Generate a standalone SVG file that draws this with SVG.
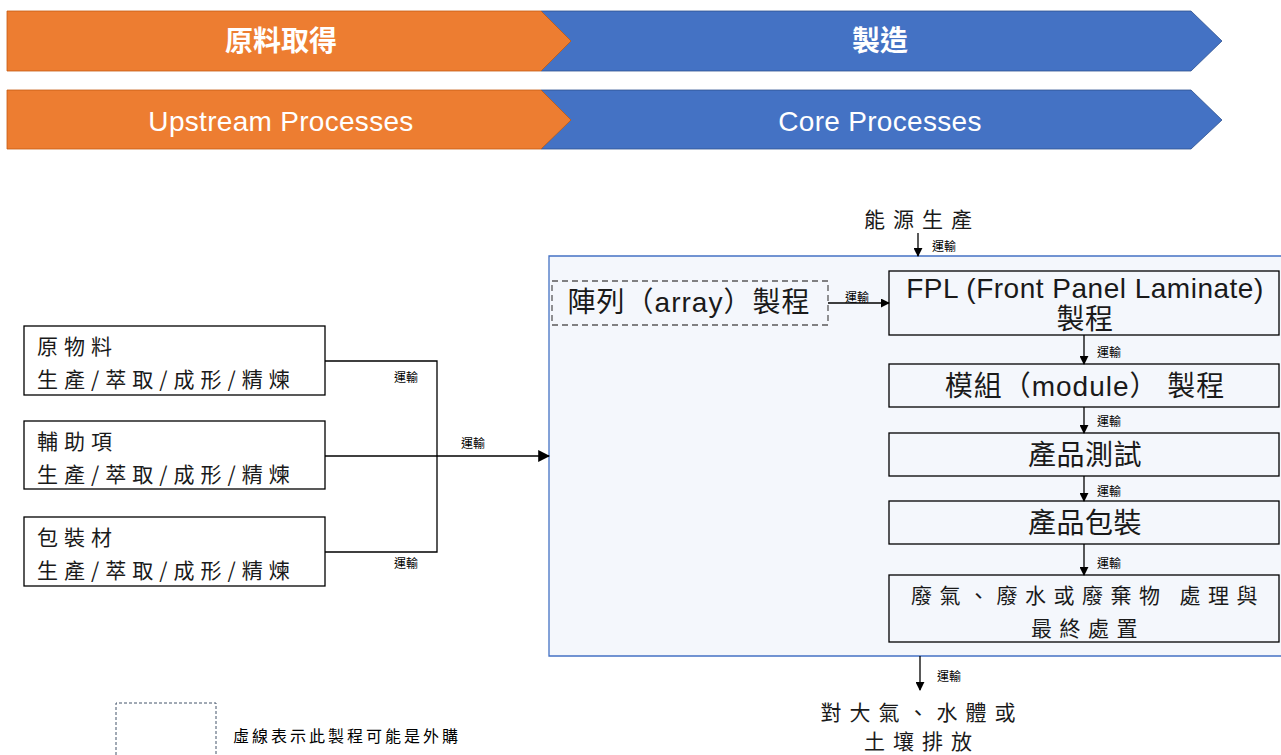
<svg xmlns="http://www.w3.org/2000/svg" width="1281" height="755" viewBox="0 0 1281 755">
<style>
.ban{font-family:"Liberation Sans","Noto Sans CJK TC",sans-serif;font-size:28px;fill:#ffffff;text-anchor:middle;dominant-baseline:central}
.banb{font-weight:bold}
.box{fill:#ffffff;stroke:#000000;stroke-width:1.3}
.pbox{fill:#f4f7fc;stroke:#000000;stroke-width:1.3}
.ser{font-family:"Noto Sans CJK TC",sans-serif;font-size:21px;fill:#1a1a1a;letter-spacing:6px;dominant-baseline:central}
.sans{font-family:"Liberation Sans","Noto Sans CJK TC",sans-serif;font-size:28px;fill:#1a1a1a;text-anchor:middle;dominant-baseline:central;letter-spacing:0.5px}
.lbl{font-family:"Noto Sans CJK TC",sans-serif;font-size:12px;fill:#000000;dominant-baseline:central}
.ln{fill:none;stroke:#000000;stroke-width:1.3}
</style>
<defs>
<marker id="ah" viewBox="0 0 10 10" refX="9" refY="5" markerWidth="9" markerHeight="9" markerUnits="userSpaceOnUse" orient="auto">
<path d="M0,0 L10,5 L0,10 z" fill="#000000"/>
</marker>
<marker id="ahb" viewBox="0 0 10 10" refX="9" refY="5" markerWidth="12" markerHeight="12" markerUnits="userSpaceOnUse" orient="auto">
<path d="M0,0 L10,5 L0,10 z" fill="#000000"/>
</marker>
</defs>
<rect width="1281" height="755" fill="#ffffff"/>

<g id="banners">
<polygon points="541,11 1191,11 1222,41 1191,71 541,71 571,41" fill="#4472c4" stroke="#2f528f" stroke-width="0.8"/>
<polygon points="7,11 541,11 571,41 541,71 7,71" fill="#ed7d31" stroke="#c55a11" stroke-width="0.8"/>
<text class="ban banb" x="281" y="41">原料取得</text>
<text class="ban banb" x="880" y="41">製造</text>
<polygon points="541,90 1191,90 1222,120 1191,149 541,149 571,120" fill="#4472c4" stroke="#2f528f" stroke-width="0.8"/>
<polygon points="7,90 541,90 571,120 541,149 7,149" fill="#ed7d31" stroke="#c55a11" stroke-width="0.8"/>
<text class="ban" x="281" y="121" style="letter-spacing:0.3px">Upstream Processes</text>
<text class="ban" x="880" y="121" style="letter-spacing:0.3px">Core Processes</text>
</g>

<g id="container">
<path d="M1281,256 L549,256 L549,656 L1281,656" fill="#f4f7fc" stroke="#4472c4" stroke-width="1.3"/>
</g>

<g id="raw">
<rect class="box" x="24" y="326" width="301" height="69"/>
<text class="ser" x="37" y="345">原物料</text>
<text class="ser" x="37" y="378">生產/萃取/成形/精煉</text>
</g>
<g id="aux">
<rect class="box" x="24" y="421" width="301" height="68"/>
<text class="ser" x="37" y="440">輔助項</text>
<text class="ser" x="37" y="473">生產/萃取/成形/精煉</text>
</g>
<g id="pack">
<rect class="box" x="24" y="517" width="301" height="69"/>
<text class="ser" x="37" y="536">包裝材</text>
<text class="ser" x="37" y="569">生產/萃取/成形/精煉</text>
</g>

<g id="energy">
<text class="ser" x="922" y="218" text-anchor="middle" style="letter-spacing:8px">能源生產</text>
</g>

<g id="array">
<rect x="552" y="281" width="276" height="44" fill="none" stroke="#595959" stroke-width="1.3" stroke-dasharray="6,4"/>
<text class="sans" x="689" y="302" style="letter-spacing:1px">陣列（array）製程</text>
</g>

<g id="fpl">
<rect class="pbox" x="889" y="271" width="390" height="64"/>
<text class="sans" x="1085" y="288">FPL (Front Panel Laminate)</text>
<text class="sans" x="1085" y="319">製程</text>
</g>
<g id="module">
<rect class="pbox" x="889" y="364" width="390" height="43"/>
<text class="sans" x="1085" y="386" style="letter-spacing:1px">模組（module） 製程</text>
</g>
<g id="test">
<rect class="pbox" x="889" y="433" width="390" height="43"/>
<text class="sans" x="1085" y="455">產品測試</text>
</g>
<g id="packaging">
<rect class="pbox" x="889" y="501" width="390" height="43"/>
<text class="sans" x="1085" y="523">產品包裝</text>
</g>
<g id="waste">
<rect class="pbox" x="889" y="575" width="390" height="67"/>
<text class="ser" x="1088" y="594" text-anchor="middle" style="letter-spacing:7.5px">廢氣、廢水或廢棄物 處理與</text>
<text class="ser" x="1088" y="627" text-anchor="middle" style="letter-spacing:7.5px">最終處置</text>
</g>

<g id="emission">
<text class="ser" x="922" y="711" text-anchor="middle" style="letter-spacing:8px">對大氣、水體或</text>
<text class="ser" x="922" y="740" text-anchor="middle" style="letter-spacing:8px">土壤排放</text>
</g>

<g id="legend">
<path d="M116,755 L116,703 L216,703 L216,755" fill="none" stroke="#44546a" stroke-width="1" stroke-dasharray="3,2"/>
<text class="lbl" x="233" y="735" style="font-size:16px;letter-spacing:3px">虛線表示此製程可能是外購</text>
</g>

<g id="connectors">
<path class="ln" d="M325,361 L437,361 L437,552 L325,552"/>
<path class="ln" d="M325,456 L437,456"/>
<path class="ln" d="M437,456 L549,456" stroke-width="2" marker-end="url(#ahb)"/>
<text class="lbl" x="394" y="376">運輸</text>
<text class="lbl" x="394" y="562">運輸</text>
<text class="lbl" x="461" y="442">運輸</text>

<path class="ln" d="M918,233 L918,256" marker-end="url(#ah)"/>
<text class="lbl" x="932" y="245">運輸</text>

<path class="ln" d="M828,303 L889,303" marker-end="url(#ah)"/>
<text class="lbl" x="845" y="296">運輸</text>

<path class="ln" d="M1084,335 L1084,364" marker-end="url(#ah)"/>
<text class="lbl" x="1097" y="351">運輸</text>
<path class="ln" d="M1084,407 L1084,433" marker-end="url(#ah)"/>
<text class="lbl" x="1097" y="420">運輸</text>
<path class="ln" d="M1084,476 L1084,501" marker-end="url(#ah)"/>
<text class="lbl" x="1097" y="490">運輸</text>
<path class="ln" d="M1084,544 L1084,575" marker-end="url(#ah)"/>
<text class="lbl" x="1097" y="562">運輸</text>

<path class="ln" d="M920,656 L920,690" marker-end="url(#ah)"/>
<text class="lbl" x="937" y="675">運輸</text>
</g>
</svg>
